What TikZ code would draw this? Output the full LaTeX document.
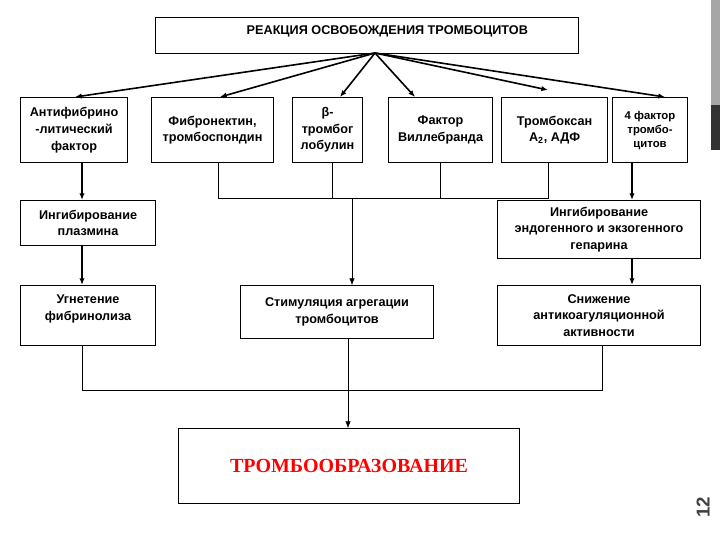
\documentclass[tikz,border=0pt]{standalone}
\usepackage{fontspec}
\setmainfont{Liberation Sans}
\newfontfamily\serifred{Liberation Serif}
\usetikzlibrary{arrows.meta}
\begin{document}
\begin{tikzpicture}[x=0.75pt,y=-0.75pt,
 bx/.style={draw,thick,rectangle,inner sep=0pt,align=center,font=\bfseries\fontsize{9.5}{12.5}\selectfont},
 ar/.style={-{Latex[length=5pt,width=4pt]},line width=1.2pt},
 ln/.style={thin}]
\useasboundingbox (0,0) rectangle (720,540);
\fill[gray!70] (711,0) rectangle (720,105);
\fill[black!80] (711,105) rectangle (720,150);
\node[bx,minimum width=423*0.75pt,minimum height=36*0.75pt,anchor=north west,font=\bfseries\fontsize{9.5}{12}\selectfont] (t) at (155,17) {\hspace*{3.2em}РЕАКЦИЯ ОСВОБОЖДЕНИЯ ТРОМБОЦИТОВ\\[-4pt]};
\coordinate (src) at (375,53);
\node[bx,minimum width=107*0.75pt,minimum height=65*0.75pt,anchor=north west] (b1) at (20,97) {Антифибрино\\-литический\\фактор};
\node[bx,minimum width=122*0.75pt,minimum height=65*0.75pt,anchor=north west] (b2) at (151,97) {Фибронектин,\\тромбоспондин};
\node[bx,minimum width=70*0.75pt,minimum height=65*0.75pt,anchor=north west] (b3) at (292,97) {β-\\тромбог\\лобулин};
\node[bx,minimum width=104*0.75pt,minimum height=65*0.75pt,anchor=north west] (b4) at (388,97) {Фактор\\Виллебранда};
\node[bx,minimum width=106*0.75pt,minimum height=65*0.75pt,anchor=north west] (b5) at (501,97) {Тромбоксан\\А\textsubscript{2}, АДФ};
\node[bx,minimum width=75*0.75pt,minimum height=65*0.75pt,anchor=north west,font=\bfseries\fontsize{8.5}{10.5}\selectfont] (b6) at (612,97) {4 фактор\\тромбо-\\цитов};
\coordinate (e1) at (75,97); \coordinate (e2) at (220,97); \coordinate (e3) at (340,97);
\coordinate (e4) at (415,97); \coordinate (e5) at (548,90); \coordinate (e6) at (665,97);
\foreach \e in {e1,e2,e3,e4,e5,e6} \draw[ar] (src) -- (\e);
\node[bx,minimum width=135*0.75pt,minimum height=45*0.75pt,anchor=north west] (c1) at (20,200) {Ингибирование\\плазмина};
\node[bx,minimum width=203*0.75pt,minimum height=58*0.75pt,anchor=north west] (c3) at (497,200) {Ингибирование\\эндогенного и экзогенного\\гепарина};
\node[bx,minimum width=135*0.75pt,minimum height=60*0.75pt,anchor=north west] (d1) at (20,285) {Угнетение\\фибринолиза\\[-1pt]};
\node[bx,minimum width=193*0.75pt,minimum height=53*0.75pt,anchor=north west] (d2) at (240,285) {Стимуляция агрегации\\тромбоцитов};
\node[bx,minimum width=203*0.75pt,minimum height=60*0.75pt,anchor=north west] (d3) at (497,285) {Снижение\\антикоагуляционной\\активности};
\node[draw,thick,minimum width=341*0.75pt,minimum height=75*0.75pt,anchor=north west,text=red,font=\serifred\bfseries\fontsize{15}{18}\selectfont] (f) at (178,428) {ТРОМБООБРАЗОВАНИЕ};
\draw[ar] (b1.south -| 82,0) -- (c1.north -| 82,0);
\draw[ar] (c1.south -| 82,0) -- (d1.north -| 82,0);
\draw[ar] (b6.south -| 632,0) -- (c3.north -| 632,0);
\draw[ar] (c3.south -| 632,0) -- (d3.north -| 632,0);
\coordinate (j) at (352,198);
\draw[ln] (b2.south -| 218,0) |- (j) (b5.south -| 548,0) |- (j);
\draw[ln] (b3.south -| 332,0) -- (332,198) (b4.south -| 440,0) -- (440,198);
\draw[ar,thin] (j) -- (d2.north -| 352,0);
\coordinate (k) at (348,390);
\draw[ln] (d1.south -| 82,0) |- (k) (d3.south -| 602,0) |- (k);
\draw[ar,thin] (d2.south -| 348,0) -- (f.north -| 348,0);
\node[rotate=90,font=\bfseries\fontsize{14}{14}\selectfont,text=black!75] (n) at (703,507) {12};
\end{tikzpicture}
\end{document}
